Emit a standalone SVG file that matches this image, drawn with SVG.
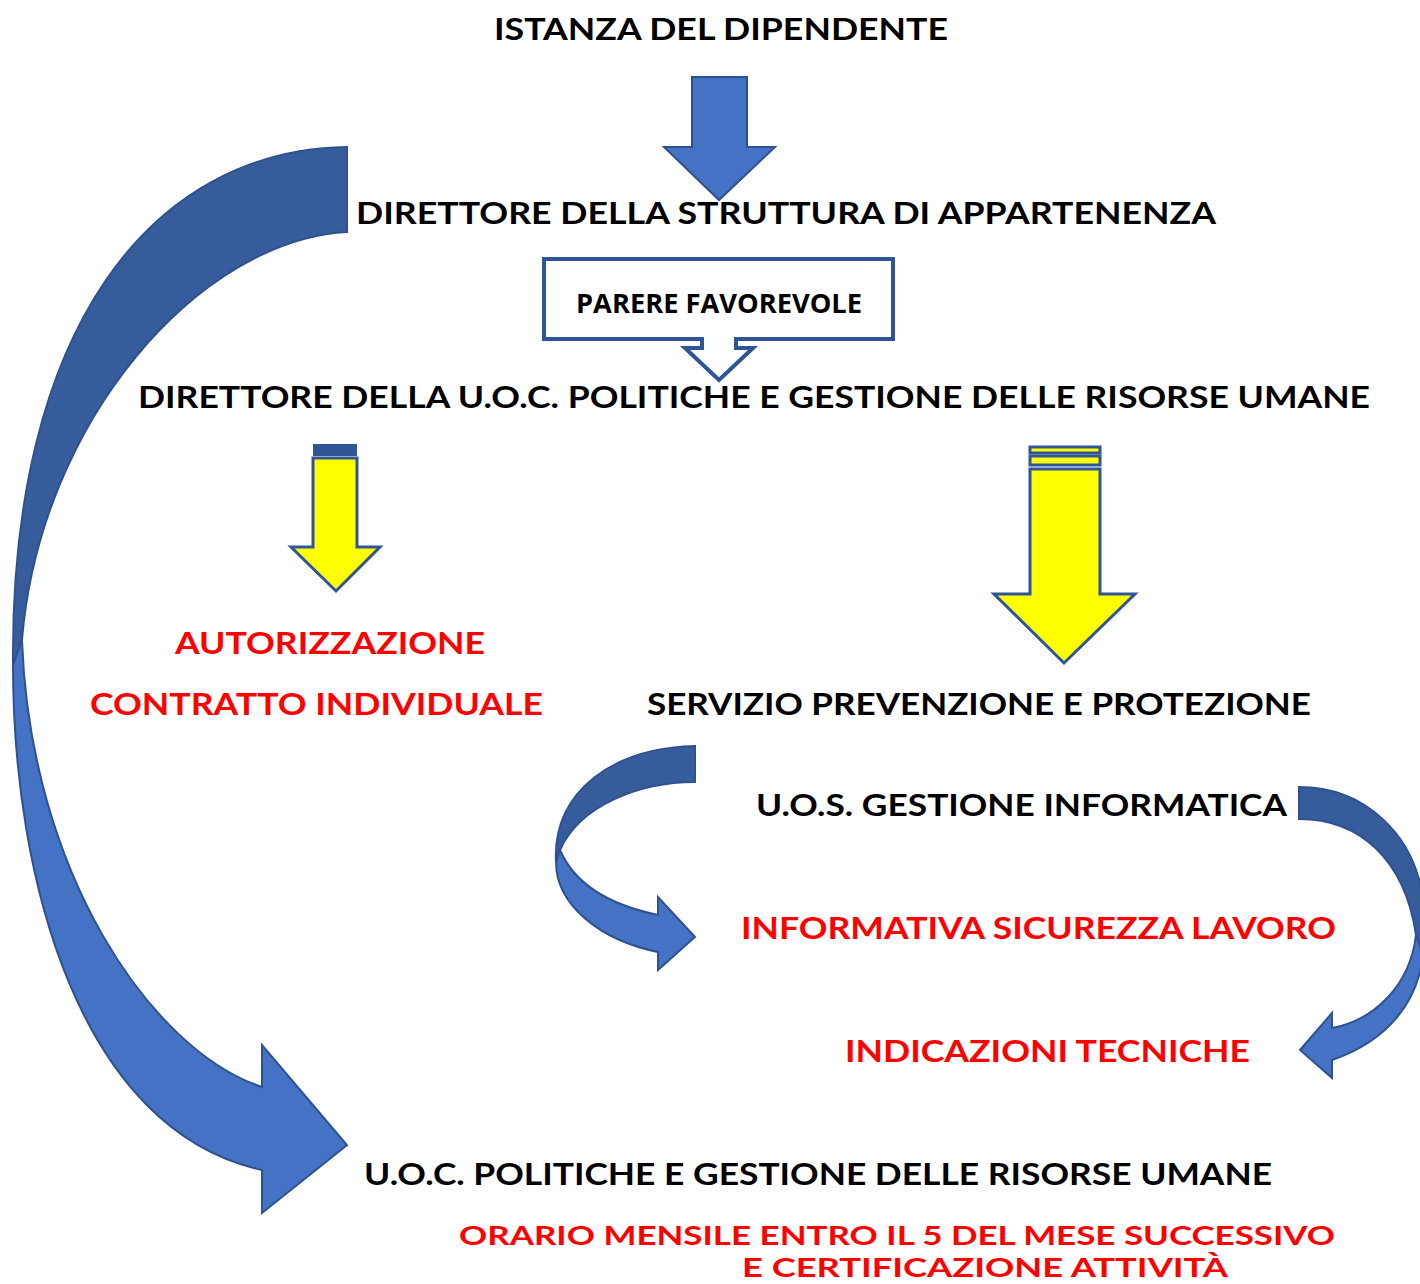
<svg xmlns="http://www.w3.org/2000/svg" width="1420" height="1284" viewBox="0 0 1420 1284">
<style>
.t{font-family:Lato,"Liberation Sans",sans-serif;font-weight:700;font-size:31px;fill:#000}
.r{fill:#FF0000}
.s{font-size:27px}
.dk{fill:#365C9C;stroke:#2F528F;stroke-width:2}
.lt{fill:#4472C4;stroke:#2F528F;stroke-width:2}
.ye{fill:#FFFF00;stroke:#2F5597;stroke-width:3}
</style>
<rect width="1420" height="1284" fill="#fff"/>
<g id="connectors">
  <path class="lt" d="M692,77 H747 V147 H775 L719,200 L664,147 H692 Z"/>
  <g id="big-curve">
    <path class="dk" d="M347,147 L347,232 C200,240 40,420 22,640 L13,665 C10,330 150,150 347,147 Z"/>
    <path class="lt" d="M13,665 C13,880 80,1130 262,1170 L262,1213 L347,1145 L262,1045 L262,1087 C150,1050 30,870 22,640 Z"/>
  </g>
  <g id="small-curve">
    <path class="dk" d="M695,746 L695,782 C640,782 580,805 560,850 L556,862 C552,790 615,748 695,746 Z"/>
    <path class="lt" d="M556,862 C556,905 600,940 658,952 L658,970 L695,937 L658,897 L658,915 C610,905 575,885 560,850 Z"/>
  </g>
  <g id="right-curve">
    <path class="dk" d="M1299,787 L1299,819 C1360,819 1405,860 1416,935 L1423,955 L1423,900 C1415,835 1365,787 1299,787 Z"/>
    <path class="lt" d="M1416,935 L1423,955 C1418,1000 1390,1040 1332,1060 L1332,1078 L1300,1050 L1332,1013 L1332,1028 C1375,1020 1410,985 1416,935 Z"/>
  </g>
  <g id="yellow-left">
    <rect x="313" y="444" width="44" height="6" fill="#2F5597"/>
    <rect x="314.5" y="451.5" width="41" height="3" class="ye" stroke-width="1.5"/>
    <path class="ye" d="M313,458 H357 V547 H380 L336,591 L291,547 H313 Z"/>
  </g>
  <g id="yellow-right">
    <rect x="1030" y="447" width="70" height="6" class="ye" stroke-width="2"/>
    <rect x="1030" y="456" width="70" height="9" class="ye" stroke-width="2.5"/>
    <path class="ye" d="M1030,469 H1100 V594 H1135 L1064,663 L994,594 H1030 Z"/>
  </g>
</g>
<g id="n-istanza"><text class="t" x="494" y="40" textLength="454" lengthAdjust="spacingAndGlyphs">ISTANZA DEL DIPENDENTE</text></g>
<g id="n-direttore-struttura"><text class="t" x="356" y="224" textLength="860" lengthAdjust="spacingAndGlyphs">DIRETTORE DELLA STRUTTURA DI APPARTENENZA</text></g>
<g id="n-parere">
  <path d="M544,259 H893 V339 H736 V348 H753 L719,380 L685,348 H702 V339 H544 Z" fill="#fff" stroke="#2F5597" stroke-width="4"/>
  <text x="576" y="313" textLength="286" lengthAdjust="spacingAndGlyphs" style="font-family:'Open Sans','Liberation Sans',sans-serif;font-weight:700;font-size:27px;fill:#000">PARERE FAVOREVOLE</text>
</g>
<g id="n-direttore-uoc"><text class="t" x="138" y="408" textLength="1232" lengthAdjust="spacingAndGlyphs">DIRETTORE DELLA U.O.C. POLITICHE E GESTIONE DELLE RISORSE UMANE</text></g>
<g id="n-autorizzazione">
  <text class="t r" x="175" y="654" textLength="310" lengthAdjust="spacingAndGlyphs">AUTORIZZAZIONE</text>
  <text class="t r" x="90" y="715" textLength="453" lengthAdjust="spacingAndGlyphs">CONTRATTO INDIVIDUALE</text>
</g>
<g id="n-spp"><text class="t" x="647" y="715" textLength="664" lengthAdjust="spacingAndGlyphs">SERVIZIO PREVENZIONE E PROTEZIONE</text></g>
<g id="n-uos"><text class="t" x="756" y="816" textLength="531" lengthAdjust="spacingAndGlyphs">U.O.S. GESTIONE INFORMATICA</text></g>
<g id="n-informativa"><text class="t r" x="741" y="939" textLength="595" lengthAdjust="spacingAndGlyphs">INFORMATIVA SICUREZZA LAVORO</text></g>
<g id="n-indicazioni"><text class="t r" x="845" y="1062" textLength="405" lengthAdjust="spacingAndGlyphs">INDICAZIONI TECNICHE</text></g>
<g id="n-uoc"><text class="t" x="364" y="1185" textLength="908" lengthAdjust="spacingAndGlyphs">U.O.C. POLITICHE E GESTIONE DELLE RISORSE UMANE</text></g>
<g id="n-orario">
  <text class="t r s" x="459" y="1245" textLength="876" lengthAdjust="spacingAndGlyphs">ORARIO MENSILE ENTRO IL 5 DEL MESE SUCCESSIVO</text>
  <text class="t r s" x="742" y="1277" textLength="486" lengthAdjust="spacingAndGlyphs">E CERTIFICAZIONE ATTIVITÀ</text>
</g>
</svg>
